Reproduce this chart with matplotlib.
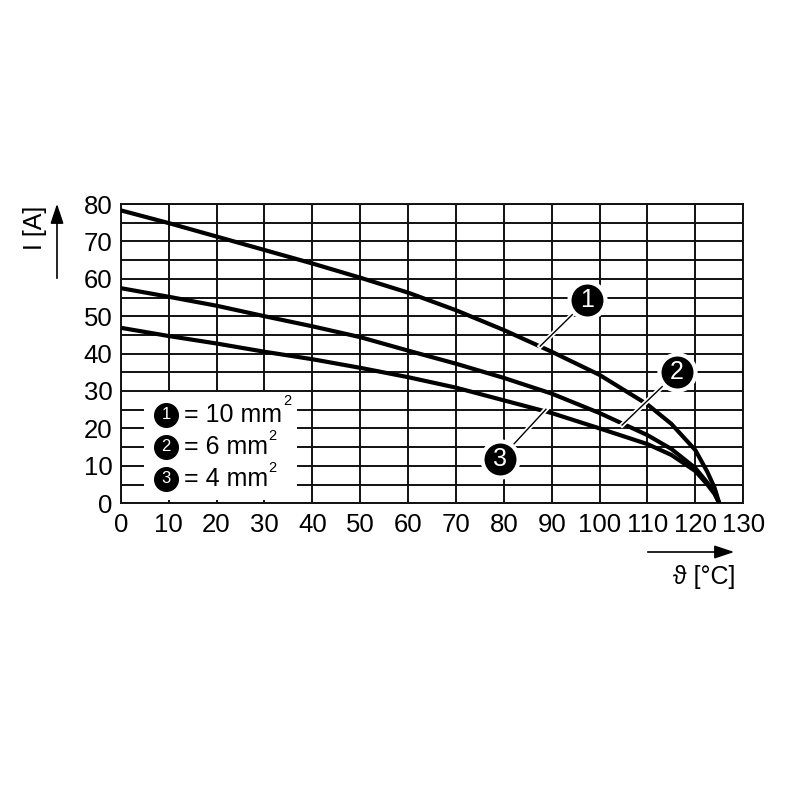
import numpy as np
import matplotlib.pyplot as plt
from matplotlib.patches import Rectangle

plt.rcParams['font.family'] = ['Liberation Sans', 'DejaVu Sans']

# temperature (deg C) and current (A)
temp = [0, 10, 20, 30, 40, 50, 60, 70, 80, 90, 100, 110, 115, 120, 122.5, 124, 125]
i_10mm = [78.3, 74.9, 71.3, 67.7, 64.1, 60.3, 56.3, 51.6, 46.3, 40.5, 34.3, 26.4, 21.2, 14.2, 8.4, 4.2, 0]
i_6mm = [57.5, 55.2, 52.8, 50.0, 47.3, 44.4, 40.8, 37.3, 33.5, 29.3, 24.1, 18.2, 14.5, 9.4, 5.5, 2.8, 0]
i_4mm = [46.9, 44.7, 42.7, 40.5, 38.5, 36.2, 33.7, 30.9, 27.5, 24.1, 20.0, 15.8, 12.9, 8.6, 5.0, 2.5, 0]

curve_labels = ["1", "2", "3"]
legend_text = ["= 10 mm", "= 6 mm", "= 4 mm"]
# callout: point on curve -> bubble centre
callout_from = [(87.6, 42.0), (104.7, 20.9), (88.8, 25.1)]
callout_to = [(97.4, 54.3), (116.2, 35.0), (79.2, 11.8)]

x_ticks = np.arange(0, 131, 10)
y_ticks = np.arange(0, 81, 10)

fig = plt.figure(figsize=(8, 8), dpi=100)
ax = fig.add_axes([0.151, 0.371, 0.778, 0.374])
ax.set_xlim(0, 130)
ax.set_ylim(0, 80)

# grid
for xv in np.arange(0, 131, 10):
    ax.axvline(xv, color="#111111", lw=1.4, zorder=1)
for yv in np.arange(0, 81, 5):
    ax.axhline(yv, color="#111111", lw=1.4, zorder=1)

for sp in ax.spines.values():
    sp.set_linewidth(1.4)
    sp.set_color("#111111")

ax.set_xticks(x_ticks)
ax.set_yticks(y_ticks)
ax.tick_params(length=0, labelsize=18.5)
ax.tick_params(axis="y", pad=6)
ax.tick_params(axis="x", pad=7)

for ys in [i_10mm, i_6mm, i_4mm]:
    ax.plot(temp, ys, color="black", lw=3, zorder=3, solid_joinstyle="round")

# callouts
for lab, (x0, y0), (x1, y1) in zip(curve_labels, callout_from, callout_to):
    ax.plot([x0, x1], [y0, y1], color="white", lw=3.5, zorder=4)
    ax.plot([x0, x1], [y0, y1], color="black", lw=1, zorder=5)
    ax.plot(x1, y1, "o", ms=26, mfc="black", mec="white", mew=3, zorder=6)
    ax.text(x1, y1, lab, color="white", fontsize=18, ha="center", va="center", zorder=7)

# legend box
ax.add_patch(Rectangle((4.8, 0.9), 32.0, 28.8, facecolor="white", edgecolor="none", zorder=2))
leg_y = [23.7, 15.1, 6.6]
for lab, txt, yy in zip(curve_labels, legend_text, leg_y):
    ax.plot(9.5, yy, "o", ms=17, mfc="black", mec="black", zorder=6)
    ax.text(9.5, yy, lab, color="white", fontsize=12, ha="center", va="center", zorder=7)
    ax.text(13.2, yy, txt, fontsize=18, ha="left", va="center", zorder=7)
legend_sup_x = [34.8, 31.7, 31.7]
legend_sup_y = [27.3, 18.0, 9.5]
for xs, ysup in zip(legend_sup_x, legend_sup_y):
    ax.text(xs, ysup, "2", fontsize=10.5, ha="center", va="center", zorder=7)

# axis labels with arrows
fig.text(35 / 800, 1 - 228 / 800, "I [A]", rotation=90, fontsize=18, ha="center", va="center")
fig.add_artist(plt.Line2D([57 / 800, 57 / 800], [1 - 278 / 800, 1 - 215 / 800], color="black", lw=1.2))
ax.annotate("", xy=(57 / 800, 1 - 201 / 800), xytext=(57 / 800, 1 - 222 / 800),
            xycoords="figure fraction", textcoords="figure fraction",
            arrowprops=dict(arrowstyle="-|>,head_length=1.2,head_width=0.4", color="black", lw=1.2))
fig.add_artist(plt.Line2D([648 / 800, 720 / 800], [1 - 552 / 800, 1 - 552 / 800], color="black", lw=1.2))
ax.annotate("", xy=(737 / 800, 1 - 552 / 800), xytext=(712 / 800, 1 - 552 / 800),
            xycoords="figure fraction", textcoords="figure fraction",
            arrowprops=dict(arrowstyle="-|>,head_length=1.2,head_width=0.4", color="black", lw=1.2))
fig.text(704 / 800, 1 - 577 / 800, "ϑ [°C]", fontsize=18, ha="center", va="center")

plt.savefig("out.png", dpi=100)
